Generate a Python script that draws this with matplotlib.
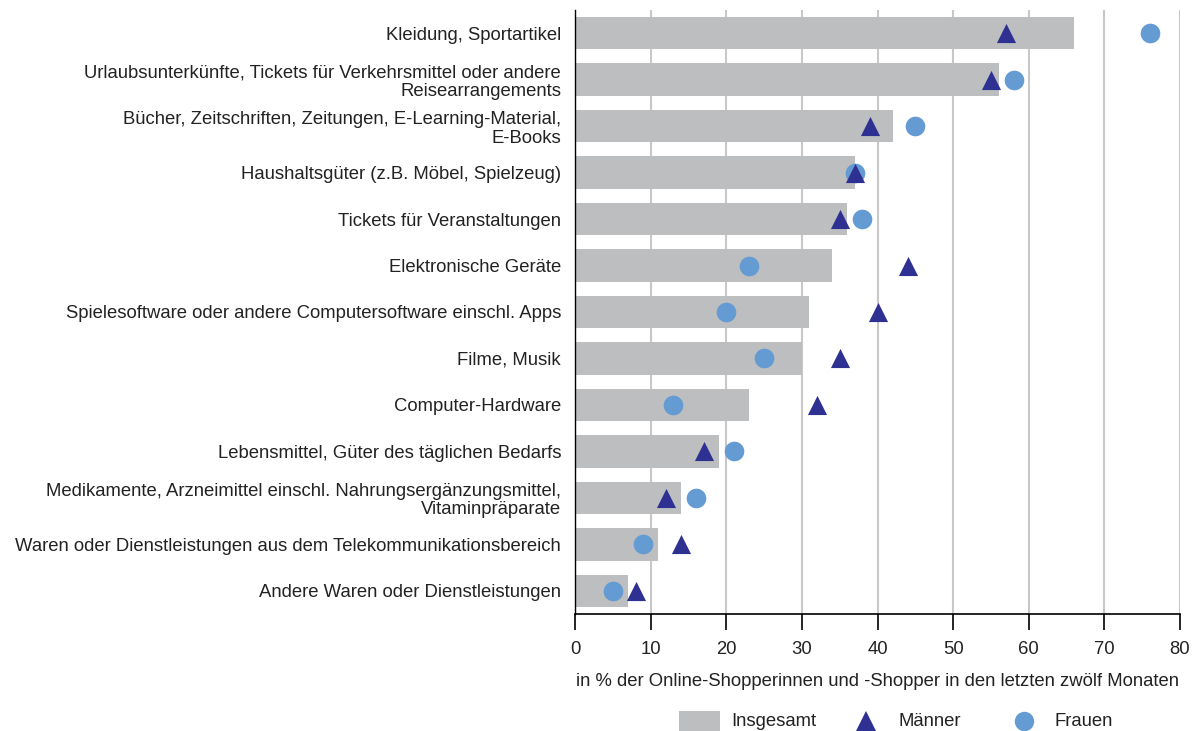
import matplotlib
matplotlib.use("Agg")
import matplotlib.pyplot as plt
from matplotlib.lines import Line2D
from matplotlib.patches import Rectangle

plt.rcParams['font.family'] = ['Liberation Sans', 'DejaVu Sans']

categories = [
    "Kleidung, Sportartikel",
    "Urlaubsunterkünfte, Tickets für Verkehrsmittel oder andere\nReisearrangements",
    "Bücher, Zeitschriften, Zeitungen, E-Learning-Material,\nE-Books",
    "Haushaltsgüter (z.B. Möbel, Spielzeug)",
    "Tickets für Veranstaltungen",
    "Elektronische Geräte",
    "Spielesoftware oder andere Computersoftware einschl. Apps",
    "Filme, Musik",
    "Computer-Hardware",
    "Lebensmittel, Güter des täglichen Bedarfs",
    "Medikamente, Arzneimittel einschl. Nahrungsergänzungsmittel,\nVitaminpräparate",
    "Waren oder Dienstleistungen aus dem Telekommunikationsbereich",
    "Andere Waren oder Dienstleistungen",
]
insgesamt = [66, 56, 42, 37, 36, 34, 31, 30, 23, 19, 14, 11, 7]
maenner = [57, 55, 39, 37, 35, 44, 40, 35, 32, 17, 12, 14, 8]
frauen = [76, 58, 45, 37, 38, 23, 20, 25, 13, 21, 16, 9, 5]
xticks = [0, 10, 20, 30, 40, 50, 60, 70, 80]
legend_labels = ["Insgesamt", "Männer", "Frauen"]
xlabel = "in % der Online-Shopperinnen und -Shopper in den letzten zwölf Monaten"

bar_color = "#BCBEC0"
tri_color = "#2E3192"
circ_color = "#659BD3"
text_color = "#222222"
fs = 13.3

W, H = 1196, 731
fig = plt.figure(figsize=(W/100, H/100), dpi=100)
ax = fig.add_axes([575/W, 1 - 614/H, (1180-575)/W, (614-10)/H])

y = list(range(len(categories)))
ax.barh(y, insgesamt, height=0.7, color=bar_color, zorder=2)
ax.scatter(frauen, y, marker='o', s=200, color=circ_color, zorder=3, linewidths=0)
ax.scatter(maenner, y, marker='^', s=190, color=tri_color, zorder=4, linewidths=0)

ax.set_xlim(0, 80)
ax.set_ylim(12.5, -0.5)
ax.set_xticks(xticks)
ax.set_yticks(y)
ax.set_yticklabels(categories, fontsize=fs, color=text_color, linespacing=1.12)
ax.tick_params(axis='y', length=0, pad=10)
ax.tick_params(axis='x', length=11.5, width=1.2, direction='out', labelsize=fs,
               labelcolor=text_color, pad=8)
ax.xaxis.grid(True, color="#C8C8C8", linewidth=1.5, zorder=0)
ax.set_axisbelow(True)
for s in ['top', 'right']:
    ax.spines[s].set_visible(False)
ax.spines['left'].set_linewidth(1.0)
ax.spines['bottom'].set_linewidth(1.2)
ax.set_xlabel(xlabel, fontsize=fs, color=text_color, labelpad=11)

# legend, placed manually in figure pixel coordinates
ly = 1 - 721/H
fig.add_artist(Rectangle((679/W, 1 - 731/H), 41/W, 20/H, transform=fig.transFigure,
                         facecolor=bar_color, edgecolor='none'))
fig.text(731/W, ly, legend_labels[0], fontsize=fs, color=text_color, va='center', ha='left')
fig.add_artist(Line2D([866/W], [ly], transform=fig.transFigure, marker='^', linestyle='none',
                      color=tri_color, markersize=14, markeredgewidth=0))
fig.text(898/W, ly, legend_labels[1], fontsize=fs, color=text_color, va='center', ha='left')
fig.add_artist(Line2D([1024/W], [ly], transform=fig.transFigure, marker='o', linestyle='none',
                      color=circ_color, markersize=14, markeredgewidth=0))
fig.text(1055/W, ly, legend_labels[2], fontsize=fs, color=text_color, va='center', ha='left')

fig.savefig("out.png", dpi=100)
